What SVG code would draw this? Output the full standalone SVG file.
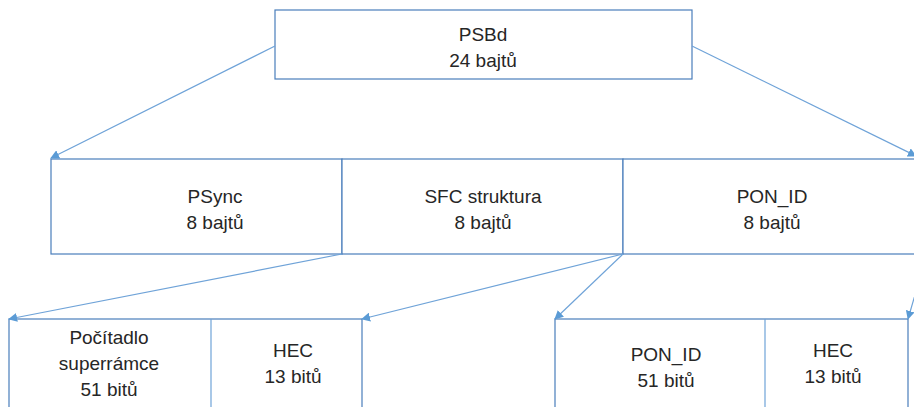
<svg xmlns="http://www.w3.org/2000/svg" width="914" height="407" viewBox="0 0 914 407">
  <style>
    .box { fill: #ffffff; stroke: #4a7ebb; stroke-width: 1.2; }
    .div { stroke: #6fa3d8; stroke-width: 1.2; fill: none; }
    .conn { stroke: #6fa3d8; stroke-width: 1.2; fill: none; marker-end: url(#arrow); }
    text { font-family: "Liberation Sans", Arial, sans-serif; font-size: 19px; fill: #262626; text-anchor: middle; }
  </style>
  <defs>
    <marker id="arrow" viewBox="0 0 10 10" refX="9" refY="5" markerWidth="9" markerHeight="9" markerUnits="userSpaceOnUse" orient="auto">
      <path d="M0,0 L10,5 L0,10 z" fill="#5b9bd5"/>
    </marker>
  </defs>

  <!-- top frame -->
  <g id="psbd">
    <rect class="box" x="275" y="10" width="417" height="69"/>
    <text x="483" y="41">PSBd</text>
    <text x="483" y="67">24 bajtů</text>
  </g>

  <!-- middle row: three fields -->
  <g id="psync">
    <rect class="box" x="51" y="159" width="291" height="95"/>
    <text x="215" y="203">PSync</text>
    <text x="215" y="229">8 bajtů</text>
  </g>
  <g id="sfc">
    <rect class="box" x="342" y="159" width="281" height="95"/>
    <text x="483" y="203">SFC struktura</text>
    <text x="483" y="229">8 bajtů</text>
  </g>
  <g id="ponid">
    <rect class="box" x="623" y="159" width="300" height="95"/>
    <text x="772" y="203">PON_ID</text>
    <text x="772" y="229">8 bajtů</text>
  </g>

  <!-- bottom left: SFC breakdown -->
  <g id="sfc-detail">
    <rect class="box" x="9" y="319" width="353" height="100"/>
    <line class="div" x1="211" y1="319" x2="211" y2="407"/>
    <text x="109" y="344">Počítadlo</text>
    <text x="109" y="370">superrámce</text>
    <text x="109" y="396">51 bitů</text>
    <text x="293" y="357">HEC</text>
    <text x="293" y="383">13 bitů</text>
  </g>

  <!-- bottom right: PON_ID breakdown -->
  <g id="ponid-detail">
    <rect class="box" x="555" y="319" width="353" height="100"/>
    <line class="div" x1="765" y1="319" x2="765" y2="407"/>
    <text x="666" y="361">PON_ID</text>
    <text x="666" y="387">51 bitů</text>
    <text x="833" y="357">HEC</text>
    <text x="833" y="383">13 bitů</text>
  </g>

  <!-- connectors -->
  <g id="connectors">
    <line class="conn" x1="275" y1="46" x2="51" y2="158"/>
    <line class="conn" x1="692" y1="46" x2="916" y2="156"/>
    <line class="conn" x1="342" y1="254" x2="9" y2="319"/>
    <line class="conn" x1="623" y1="254" x2="362" y2="319"/>
    <line class="conn" x1="623" y1="254" x2="555" y2="319"/>
    <line class="conn" x1="915" y1="295" x2="908" y2="319"/>
  </g>
</svg>
